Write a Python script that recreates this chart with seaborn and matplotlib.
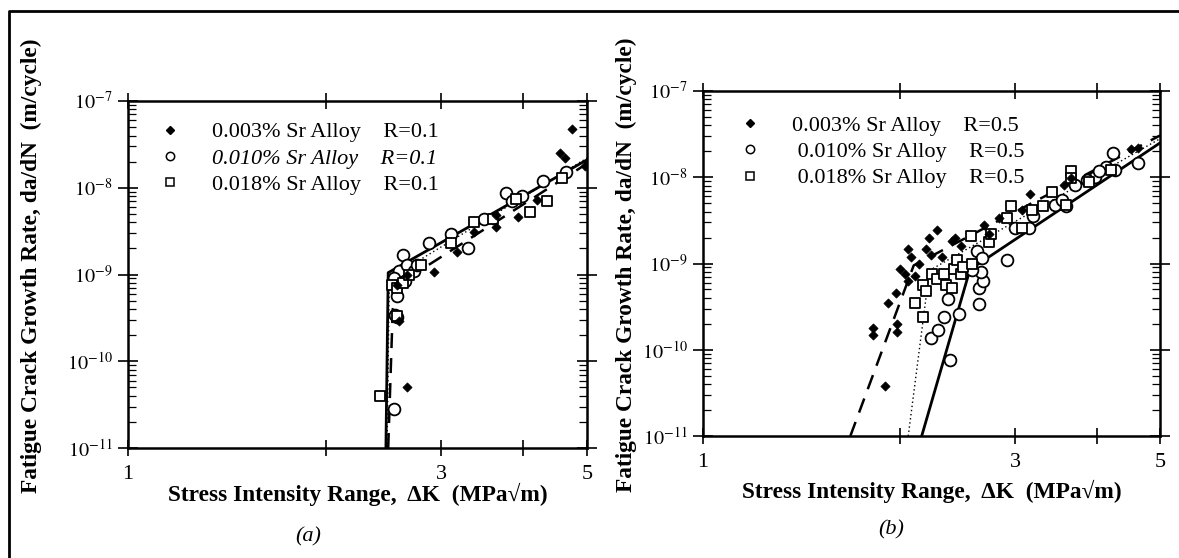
import numpy as np
import pandas as pd
import matplotlib
matplotlib.use("Agg")
import matplotlib.pyplot as plt
import seaborn as sns
from matplotlib.ticker import FixedLocator, FixedFormatter, LogLocator, NullFormatter, NullLocator
from matplotlib.lines import Line2D

# ---------------- data ----------------
series_names = ["0.003% Sr Alloy", "0.010% Sr Alloy", "0.018% Sr Alloy"]
r_labels_a = ["R=0.1", "R=0.1", "R=0.1"]
r_labels_b = ["R=0.5", "R=0.5", "R=0.5"]

x_ticks = [1, 2, 3, 4, 5]
x_ticklabels = ["1", "", "3", "", "5"]
y_ticks = [1e-11, 1e-10, 1e-9, 1e-8, 1e-7]
y_ticklabels = [r"$10^{-11}$", r"$10^{-10}$", r"$10^{-9}$", r"$10^{-8}$", r"$10^{-7}$"]

# panel (a), R = 0.1
a003_dK = [4.75, 4.54, 4.63, 4.96, 4.19, 3.93, 3.64, 3.64, 3.36, 3.17, 2.92, 2.66, 2.57, 2.59, 2.66]
a003_rate = [4.8e-8, 2.5e-8, 2.2e-8, 1.8e-8, 7.2e-9, 4.6e-9, 3.5e-9, 4.8e-9, 3.1e-9, 1.8e-9,
             1.06e-9, 1.0e-9, 7.6e-10, 2.9e-10, 5.0e-11]
a010_dK = [2.54, 2.57, 2.55, 2.62, 2.59, 2.54, 2.57, 2.66, 2.73, 2.87, 3.10, 3.29, 3.49, 3.76,
           3.98, 4.28, 4.64, 3.85, 2.64, 2.75]
a010_rate = [2.8e-11, 3.2e-10, 3.4e-10, 1.7e-9, 1.1e-9, 9.1e-10, 5.6e-10, 1.3e-9, 1.1e-9, 2.3e-9,
             2.9e-9, 2.0e-9, 4.4e-9, 8.8e-9, 8.1e-9, 1.2e-8, 1.5e-8, 7.1e-9, 8.5e-10, 1.3e-9]
a018_dK = [2.42, 2.57, 2.52, 2.57, 2.62, 2.79, 3.10, 3.36, 3.60, 4.09, 4.35, 4.58, 3.90, 2.68]
a018_rate = [4.0e-11, 3.3e-10, 7.6e-10, 6.9e-10, 8.0e-10, 1.3e-9, 2.3e-9, 4.0e-9, 4.4e-9, 5.3e-9,
             7.1e-9, 1.3e-8, 7.5e-9, 1.0e-9]

# fitted curves, panel (a)
a003_fit_dK = [2.49, 2.53, 2.60, 5.0]
a003_fit_rate = [1e-11, 4e-10, 8e-10, 1.9e-8]
a010_fit_dK = [2.47, 2.49, 5.0]
a010_fit_rate = [1e-11, 1.05e-9, 2.1e-8]
a018_fit_dK = [2.48, 2.50, 5.0]
a018_fit_rate = [1e-11, 9e-10, 2.2e-8]

# panel (b), R = 0.5
b003_dK = [1.82, 1.82, 1.90, 1.92, 1.97, 1.98, 1.98, 2.00, 2.04, 2.06, 2.06, 2.08, 2.11, 2.14,
           2.19, 2.22, 2.28, 2.23, 2.32, 2.40, 2.43, 2.48, 2.69, 2.74, 2.84, 3.08, 3.16, 3.57,
           3.66, 4.51, 4.63]
b003_rate = [1.8e-10, 1.5e-10, 3.8e-11, 3.5e-10, 4.5e-10, 2.0e-10, 1.6e-10, 8.7e-10, 7.5e-10,
             6.3e-10, 1.46e-9, 1.2e-9, 7.2e-10, 1.0e-9, 1.46e-9, 1.95e-9, 2.46e-9, 1.25e-9,
             1.2e-9, 1.8e-9, 2.0e-9, 1.6e-9, 2.8e-9, 2.2e-9, 3.4e-9, 4.2e-9, 6.4e-9, 8.1e-9,
             9.8e-9, 2.1e-8, 2.2e-8]
b010_dK = [2.39, 2.23, 2.29, 2.34, 2.37, 2.46, 2.64, 2.64, 2.68, 2.66, 2.58, 2.62, 2.67, 2.92,
           3.00, 3.15, 3.20, 3.45, 3.59, 3.71, 3.97, 4.13, 4.27, 4.24, 4.63, 3.87, 4.03, 3.54]
b010_rate = [7.6e-11, 1.36e-10, 1.7e-10, 2.4e-10, 3.9e-10, 2.6e-10, 3.4e-10, 5.2e-10, 6.2e-10,
             7.9e-10, 8.3e-10, 1.4e-9, 1.16e-9, 1.1e-9, 2.6e-9, 2.6e-9, 3.6e-9, 4.8e-9, 4.7e-9,
             8.1e-9, 1.02e-8, 1.3e-8, 1.2e-8, 1.9e-8, 1.45e-8, 9.3e-9, 1.18e-8, 5.5e-9]
b018_dK = [2.11, 2.17, 2.17, 2.19, 2.24, 2.28, 2.34, 2.35, 2.40, 2.42, 2.45, 2.48, 2.50, 2.57,
           2.58, 2.74, 2.76, 2.92, 2.96, 3.08, 3.18, 3.31, 3.42, 3.59, 3.66, 3.66, 3.89, 4.21]
b018_rate = [3.5e-10, 2.4e-10, 5.7e-10, 4.8e-10, 7.5e-10, 6.6e-10, 7.5e-10, 5.7e-10, 5.2e-10,
             8.7e-10, 1.1e-9, 7.5e-10, 9.1e-10, 2.1e-9, 1.0e-9, 1.77e-9, 2.2e-9, 3.4e-9, 4.6e-9,
             2.6e-9, 4.2e-9, 4.6e-9, 6.7e-9, 4.8e-9, 1.18e-8, 9.8e-9, 8.9e-9, 1.23e-8]

# fitted curves, panel (b)
b003_fit_dK = [1.68, 2.10, 5.0]
b003_fit_rate = [1e-11, 9.5e-10, 3.05e-8]
b010_fit_dK = [2.16, 2.56, 5.0]
b010_fit_rate = [1e-11, 8.5e-10, 2.5e-8]
b018_fit_dK = [2.06, 2.22, 5.0]
b018_fit_rate = [1e-11, 8.3e-10, 2.8e-8]

# ---------------- style ----------------
sns.set_theme(style="white")
plt.rcParams["font.family"] = ["Liberation Serif", "DejaVu Serif"]
plt.rcParams["mathtext.fontset"] = "stix"

fig = plt.figure(figsize=(11.79, 5.58), dpi=100)
axA = fig.add_axes([0.1086, 0.1971, 0.3893, 0.6219])
axB = fig.add_axes([0.5963, 0.2186, 0.3876, 0.6183])

def draw_panel(ax, d003, d010, d018, f003, f010, f018, names, rlabels, leg_anchor):
    ax.set_xscale("log")
    ax.set_yscale("log")
    # fitted curves
    sns.lineplot(x=f010[0], y=f010[1], ax=ax, color="black", lw=2.0, sort=False,
                 estimator=None, zorder=2)
    sns.lineplot(x=f003[0], y=f003[1], ax=ax, color="black", lw=1.8, sort=False,
                 estimator=None, linestyle=(0, (6, 4)), zorder=2)
    sns.lineplot(x=f018[0], y=f018[1], ax=ax, color="black", lw=1.0, sort=False,
                 estimator=None, linestyle=(0, (1, 2)), zorder=2)
    # scatter data
    sns.scatterplot(x=d003[0], y=d003[1], ax=ax, marker="D", s=22, color="black",
                    edgecolor="black", linewidth=0.5, zorder=4)
    sns.scatterplot(x=d010[0], y=d010[1], ax=ax, marker="o", s=72, facecolor="white",
                    edgecolor="black", linewidth=1.3, zorder=3)
    sns.scatterplot(x=d018[0], y=d018[1], ax=ax, marker="s", s=52, facecolor="white",
                    edgecolor="black", linewidth=1.3, zorder=3)

    ax.set_xlim(1, 5)
    ax.set_ylim(1e-11, 1e-7)
    ax.xaxis.set_major_locator(FixedLocator(x_ticks))
    ax.xaxis.set_major_formatter(FixedFormatter(x_ticklabels))
    ax.xaxis.set_minor_locator(NullLocator())
    ax.yaxis.set_major_locator(FixedLocator(y_ticks))
    ax.yaxis.set_major_formatter(FixedFormatter(y_ticklabels))
    ax.yaxis.set_minor_locator(LogLocator(base=10, subs=np.arange(2, 10)))
    ax.yaxis.set_minor_formatter(NullFormatter())
    ax.tick_params(axis="x", which="major", direction="inout", length=12, width=1.2,
                   top=True, bottom=True, labelsize=16, pad=6, colors="black")
    ax.tick_params(axis="y", which="major", direction="inout", length=14, width=1.2,
                   left=True, right=True, labelsize=14.5, pad=4, colors="black")
    ax.tick_params(axis="y", which="minor", direction="in", length=6, width=0.9,
                   left=True, right=True, colors="black")
    for sp in ax.spines.values():
        sp.set_linewidth(1.8)
        sp.set_color("black")

    ax.set_xlabel("Stress Intensity Range,  \u0394K  (MPa\u221am)", fontsize=16.8,
                  fontweight="bold", color="black")
    ax.set_ylabel("Fatigue Crack Growth Rate, da/dN  (m/cycle)", fontsize=16.8,
                  fontweight="bold", color="black")
    ax.xaxis.label.set_va("center")
    ax.yaxis.label.set_va("center")

    handles = [
        Line2D([], [], marker="D", color="black", linestyle="none", markersize=4),
        Line2D([], [], marker="o", markerfacecolor="white", markeredgecolor="black",
               markeredgewidth=1.1, linestyle="none", markersize=6),
        Line2D([], [], marker="s", markerfacecolor="white", markeredgecolor="black",
               markeredgewidth=1.1, linestyle="none", markersize=5.5),
    ]
    labels = [f"{n}    {r}" for n, r in zip(names, rlabels)]
    leg = ax.legend(handles, labels, loc="upper left", bbox_to_anchor=leg_anchor,
                    frameon=False, fontsize=16, handlelength=1.0, handletextpad=1.4,
                    labelspacing=0.26, borderpad=0, borderaxespad=0)
    for t in leg.get_texts():
        t.set_color("black")
    return leg

legA = draw_panel(axA, (a003_dK, a003_rate), (a010_dK, a010_rate), (a018_dK, a018_rate),
                  (a003_fit_dK, a003_fit_rate), (a010_fit_dK, a010_fit_rate),
                  (a018_fit_dK, a018_fit_rate), series_names, r_labels_a, (0.0675, 0.94))
legA.get_texts()[1].set_style("italic")
names_b = [series_names[0], " " + series_names[1], " " + series_names[2]]
legB = draw_panel(axB, (b003_dK, b003_rate), (b010_dK, b010_rate), (b018_dK, b018_rate),
                  (b003_fit_dK, b003_fit_rate), (b010_fit_dK, b010_fit_rate),
                  (b018_fit_dK, b018_fit_rate), names_b, r_labels_b, (0.079, 0.93))

axA.xaxis.set_label_coords(0.5, -0.135)
axA.yaxis.set_label_coords(-0.211, 0.526)
axB.xaxis.set_label_coords(0.5, -0.16)
axB.yaxis.set_label_coords(-0.168, 0.497)

fig.text(308 / 1179, 1 - 537 / 558, "(a)", ha="center", va="center", fontsize=16,
         style="italic", color="black")
fig.text(891 / 1179, 1 - 530 / 558, "(b)", ha="center", va="center", fontsize=16,
         style="italic", color="black")

# page border (left and top edges)
fig.add_artist(Line2D([9 / 1179, 9 / 1179, 1.0], [0.0, 1 - 11 / 558, 1 - 11 / 558],
                      transform=fig.transFigure, color="black", lw=2))

fig.savefig("out.png", dpi=100)
